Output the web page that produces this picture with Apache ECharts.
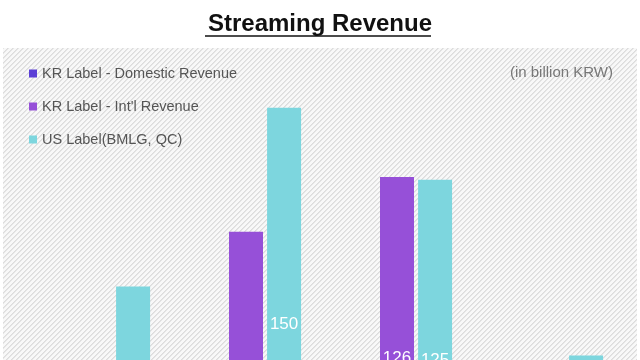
<!DOCTYPE html>
<html>
<head>
<meta charset="utf-8">
<script src="https://cdn.jsdelivr.net/npm/echarts@6/dist/echarts.min.js"></script>
<style>html,body{margin:0;padding:0;background:#fff;overflow:hidden;width:640px;height:360px}#c{width:640px;height:720px}</style>
</head>
<body>
<div id="c"></div>
<script>
const categories = ['2020', '2021', '2022', '2023'];
const seriesNames = ['KR Label - Domestic Revenue', "KR Label - Int'l Revenue", 'US Label(BMLG, QC)'];
const domestic = [30, 45, 55, 40];
const intl = [40, 107, 126, 50];
const us = [88, 150, 125, 64];
const titleText = 'Streaming Revenue';
const unitText = '(in billion KRW)';

const tile = document.createElement('canvas');
tile.width = 5; tile.height = 5;
const tctx = tile.getContext('2d');
const img = tctx.createImageData(5, 5);
for (let y = 0; y < 5; y++) for (let x = 0; x < 5; x++) {
  const k = (x + y) % 5;
  const v = k === 0 ? 0xdc : (k === 1 ? 0xe6 : 0xf8);
  const i = (y * 5 + x) * 4;
  img.data[i] = v; img.data[i+1] = v; img.data[i+2] = v; img.data[i+3] = 255;
}
tctx.putImageData(img, 0, 0);

const chart = echarts.init(document.getElementById('c'));
const labelCfg = { show: true, position: 'inside', color: '#fff', fontSize: 17, fontFamily: 'Liberation Sans' };
chart.setOption({
  animation: false,
  title: [
    { text: titleText, left: 'center', top: 7, textStyle: { fontSize: 24, fontWeight: 'bold', color: '#111', fontFamily: 'Liberation Sans Narrow, Liberation Sans' } },
    { text: unitText, right: 22, top: 60, textStyle: { fontSize: 15, fontWeight: 'normal', color: '#777', fontFamily: 'Liberation Sans' } }
  ],
  graphic: [
    { type: 'rect', z: -10, shape: { x: 3, y: 48, width: 634, height: 680 }, style: { fill: { image: tile, repeat: 'repeat' } } },
    { type: 'line', z: 10, shape: { x1: 205, y1: 36, x2: 431, y2: 36 }, style: { stroke: '#111', lineWidth: 1.5 } }
  ],
  legend: {
    orient: 'vertical', left: 24, top: 61, itemGap: 18,
    icon: 'rect', itemWidth: 8, itemHeight: 8,
    textStyle: { fontSize: 14.5, color: '#555', fontFamily: 'Liberation Sans' },
    data: seriesNames
  },
  grid: { left: 19.5, right: 16.5, top: 79, bottom: 180 },
  xAxis: { type: 'category', data: categories, axisLine: { show: false }, axisTick: { show: false }, axisLabel: { show: false } },
  yAxis: { type: 'value', min: 0, max: 160, show: false, splitLine: { show: false } },
  series: [
    { name: seriesNames[0], type: 'bar', data: domestic, barWidth: 34, barGap: '12%', itemStyle: { color: '#5b3fd6' }, label: labelCfg },
    { name: seriesNames[1], type: 'bar', data: intl, barWidth: 34, barGap: '12%', itemStyle: { color: '#9650d8' }, label: labelCfg },
    { name: seriesNames[2], type: 'bar', data: us, barWidth: 34, barGap: '12%', itemStyle: { color: '#7dd6de' }, label: labelCfg }
  ]
});
</script>
</body>
</html>
